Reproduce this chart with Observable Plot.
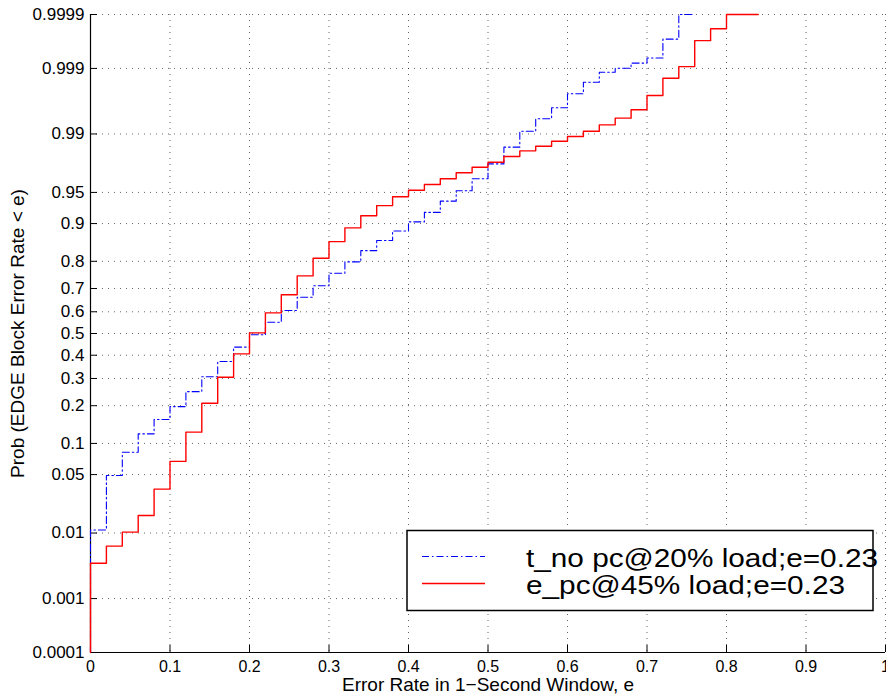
<!DOCTYPE html>
<html><head><meta charset="utf-8">
<script src="https://cdn.jsdelivr.net/npm/d3@7"></script>
<script src="https://cdn.jsdelivr.net/npm/@observablehq/plot@0.6"></script>
<style>
html,body{margin:0;padding:0;background:#fff;}
#wrap{position:relative;width:886px;height:698px;overflow:hidden;}
#legend{position:absolute;left:0;top:0;}
</style>
</head><body><div id="wrap"></div>
<script>
// ---- data ----
const xTicks = [0, 0.1, 0.2, 0.3, 0.4, 0.5, 0.6, 0.7, 0.8, 0.9, 1];
const xTickLabels = ["0", "0.1", "0.2", "0.3", "0.4", "0.5", "0.6", "0.7", "0.8", "0.9", "1"];
const yTicks = [0.0001, 0.001, 0.01, 0.05, 0.1, 0.2, 0.3, 0.4, 0.5, 0.6, 0.7, 0.8, 0.9, 0.95, 0.99, 0.999, 0.9999];
const yTickLabels = ["0.0001", "0.001", "0.01", "0.05", "0.1", "0.2", "0.3", "0.4", "0.5", "0.6", "0.7", "0.8", "0.9", "0.95", "0.99", "0.999", "0.9999"];

const seriesNames = ["t_no pc@20% load;e=0.23", "e_pc@45% load;e=0.23"];

// t_no pc @ 20% load (blue, dash-dot)
const blueE = [0, 0, 0.02, 0.04, 0.06, 0.08, 0.10, 0.12, 0.14, 0.16, 0.18, 0.20, 0.22, 0.24, 0.26, 0.28, 0.30, 0.32, 0.34, 0.36, 0.38, 0.40, 0.42, 0.44, 0.46, 0.48, 0.50, 0.52, 0.54, 0.56, 0.58, 0.60, 0.62, 0.64, 0.66, 0.68, 0.70, 0.72, 0.74, 0.76];
const blueP = [0.0001, 0.011, 0.049, 0.083, 0.121, 0.158, 0.197, 0.249, 0.307, 0.372, 0.437, 0.494, 0.552, 0.606, 0.664, 0.711, 0.759, 0.798, 0.833, 0.861, 0.884, 0.9035, 0.921, 0.9386, 0.952, 0.9644, 0.976, 0.9851, 0.9908, 0.99385, 0.99575, 0.9974, 0.9983, 0.99884, 0.99901, 0.99919, 0.99934, 0.99970, 0.9999, 0.9999];

// e_pc @ 45% load (red, solid)
const redE = [0, 0, 0.02, 0.04, 0.06, 0.08, 0.10, 0.12, 0.14, 0.16, 0.18, 0.20, 0.22, 0.24, 0.26, 0.28, 0.30, 0.32, 0.34, 0.36, 0.38, 0.40, 0.42, 0.44, 0.46, 0.48, 0.50, 0.52, 0.54, 0.56, 0.58, 0.60, 0.62, 0.64, 0.66, 0.68, 0.70, 0.72, 0.74, 0.76, 0.78, 0.80, 0.84];
const redP = [0.0001, 0.0037, 0.0066, 0.0103, 0.0169, 0.0348, 0.068, 0.125, 0.208, 0.305, 0.406, 0.503, 0.595, 0.674, 0.749, 0.810, 0.858, 0.891, 0.915, 0.932, 0.9445, 0.9526, 0.9588, 0.9644, 0.9695, 0.9737, 0.9771, 0.9805, 0.9834, 0.9855, 0.9875, 0.9892, 0.9908, 0.9925, 0.99397, 0.99545, 0.99724, 0.99854, 0.99907, 0.99968, 0.99981, 0.9999, 0.9999];

// ---- normal probability (probit) transform ----
function probit(p){
  const a=[-3.969683028665376e+01,2.209460984245205e+02,-2.759285104469687e+02,1.383577518672690e+02,-3.066479806614716e+01,2.506628277459239e+00];
  const b=[-5.447609879822406e+01,1.615858368580409e+02,-1.556989798598866e+02,6.680131188771972e+01,-1.328068155288572e+01];
  const c=[-7.784894002430293e-03,-3.223964580411365e-01,-2.400758277161838e+00,-2.549732539343734e+00,4.374664141464968e+00,2.938163982698783e+00];
  const d=[7.784695709041462e-03,3.224671290700398e-01,2.445134137142996e+00,3.754408661907416e+00];
  const pl=0.02425, ph=1-pl;
  let q,r;
  if(p<pl){q=Math.sqrt(-2*Math.log(p));return (((((c[0]*q+c[1])*q+c[2])*q+c[3])*q+c[4])*q+c[5])/((((d[0]*q+d[1])*q+d[2])*q+d[3])*q+1);}
  if(p<=ph){q=p-0.5;r=q*q;return (((((a[0]*r+a[1])*r+a[2])*r+a[3])*r+a[4])*r+a[5])*q/(((((b[0]*r+b[1])*r+b[2])*r+b[3])*r+b[4])*r+1);}
  q=Math.sqrt(-2*Math.log(1-p));return -(((((c[0]*q+c[1])*q+c[2])*q+c[3])*q+c[4])*q+c[5])/((((d[0]*q+d[1])*q+d[2])*q+d[3])*q+1);
}

const blueRows = blueE.map((e,i)=>({e, z: probit(blueP[i])}));
const redRows = redE.map((e,i)=>({e, z: probit(redP[i])}));
const yTickZ = yTicks.map(probit);
const yFmt = z => yTickLabels[yTickZ.findIndex(v => Math.abs(v - z) < 1e-9)];
const xFmt = x => xTickLabels[xTicks.findIndex(v => Math.abs(v - x) < 1e-9)];

const font = "'Liberation Sans', Arial, Helvetica, sans-serif";

const chart = Plot.plot({
  width: 886, height: 698,
  marginLeft: 90, marginRight: 1, marginTop: 14, marginBottom: 46,
  style: {fontFamily: font, fontSize: "16px", background: "#fff", color: "#000", overflow: "visible"},
  x: {domain: [0, 1]},
  y: {domain: [probit(0.0001), probit(0.9999)]},
  marks: [
    Plot.gridX({ticks: xTicks, stroke: "#000", strokeOpacity: 0.6, strokeDasharray: "1,5"}),
    Plot.gridY({ticks: yTickZ, stroke: "#000", strokeOpacity: 0.6, strokeDasharray: "1,5"}),
    Plot.axisX({ticks: xTicks, tickSize: -7, tickPadding: 15, tickFormat: xFmt, fontSize: 16,
      label: "Error Rate in 1\u2212Second Window, e", labelAnchor: "center", labelOffset: 38, labelArrow: "none"}),
    Plot.axisY({ticks: yTickZ, tickSize: -7, tickPadding: 13, tickFormat: yFmt, fontSize: 17,
      label: "Prob (EDGE Block Error Rate < e)", labelAnchor: "center", labelOffset: 80, labelArrow: "none"}),
    Plot.ruleX([0], {stroke: "#000", strokeWidth: 1.2}),
    Plot.ruleY([probit(0.0001)], {stroke: "#000", strokeWidth: 1.2}),
    Plot.line(blueRows, {x: "e", y: "z", curve: "step-after", stroke: "#0000ff", strokeWidth: 1.1, strokeDasharray: "7,3,1.5,3"}),
    Plot.line(redRows, {x: "e", y: "z", curve: "step-after", stroke: "#ff0000", strokeWidth: 1.4})
  ]
});
// make axis titles a bit larger
chart.querySelectorAll('[aria-label="x-axis label"] text, [aria-label="y-axis label"] text').forEach(t => t.setAttribute("font-size", "19"));

const wrap = document.getElementById("wrap");
wrap.appendChild(chart);

// legend box (drawn over the plot area, as in the reference)
const ns = "http://www.w3.org/2000/svg";
const leg = document.createElementNS(ns, "svg");
leg.setAttribute("id", "legend");
leg.setAttribute("width", 886); leg.setAttribute("height", 698);
leg.style.overflow = "visible";
const rect = document.createElementNS(ns, "rect");
rect.setAttribute("x", 407); rect.setAttribute("y", 530.5); rect.setAttribute("width", 466); rect.setAttribute("height", 80);
rect.setAttribute("fill", "#fff"); rect.setAttribute("stroke", "#000"); rect.setAttribute("stroke-width", 1.5);
leg.appendChild(rect);
const styles = [
  {stroke: "#0000ff", dash: "7,3,1.5,3", w: 1.1, y: 556.5, ty: 567, len: 352},
  {stroke: "#ff0000", dash: null, w: 1.4, y: 583.5, ty: 594, len: 319}
];
seriesNames.forEach((name, i) => {
  const s = styles[i];
  const ln = document.createElementNS(ns, "line");
  ln.setAttribute("x1", 422); ln.setAttribute("x2", 485); ln.setAttribute("y1", s.y); ln.setAttribute("y2", s.y);
  ln.setAttribute("stroke", s.stroke); ln.setAttribute("stroke-width", s.w);
  if (s.dash) ln.setAttribute("stroke-dasharray", s.dash);
  leg.appendChild(ln);
  const tx = document.createElementNS(ns, "text");
  tx.setAttribute("x", 526); tx.setAttribute("y", s.ty);
  tx.setAttribute("font-family", font); tx.setAttribute("font-size", 26);
  tx.setAttribute("textLength", s.len); tx.setAttribute("lengthAdjust", "spacingAndGlyphs");
  tx.textContent = name;
  leg.appendChild(tx);
});
wrap.appendChild(leg);
</script>
</body></html>
